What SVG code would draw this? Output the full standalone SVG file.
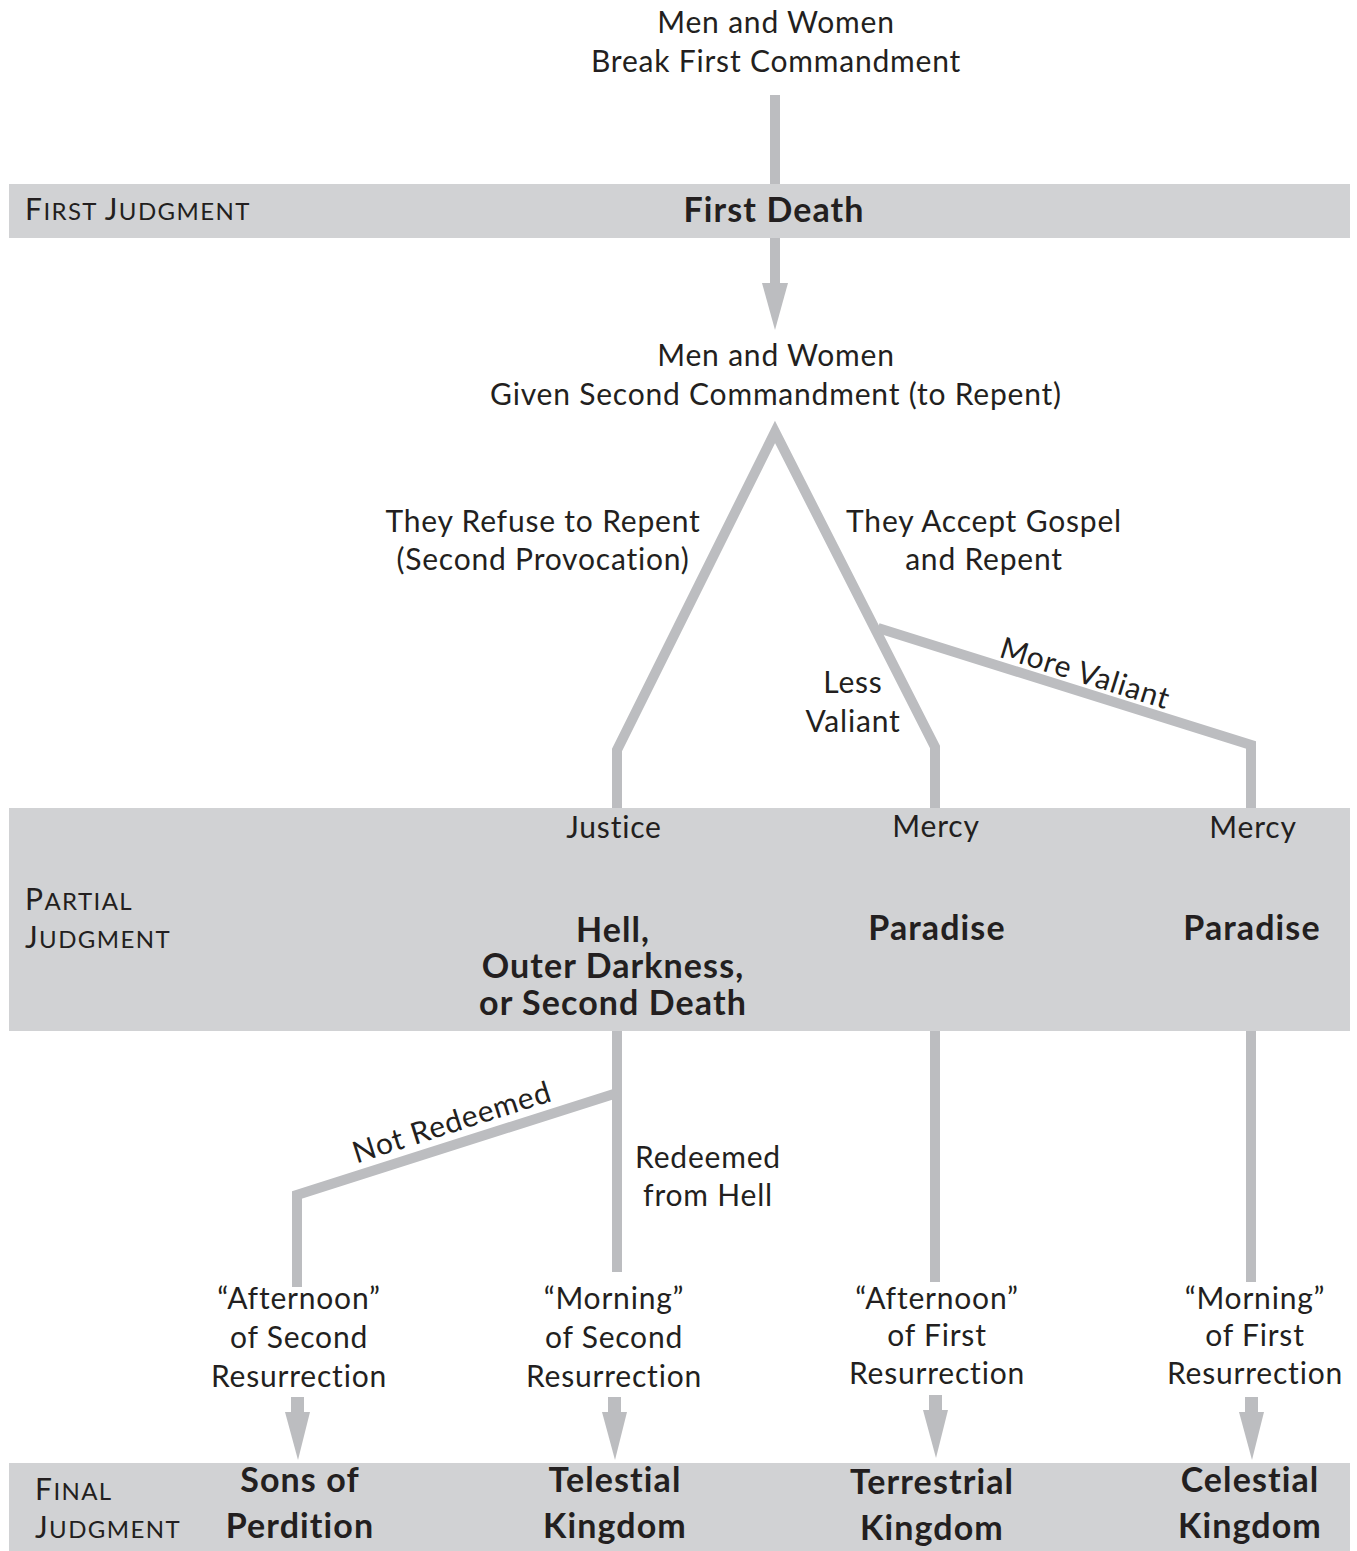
<svg xmlns="http://www.w3.org/2000/svg" width="1357" height="1551" viewBox="0 0 1357 1551">
<style>
text{font-family:Lato,"Open Sans","DejaVu Sans",sans-serif;fill:#231f20;text-anchor:middle}
.r{font-size:30px;letter-spacing:0.8px}
.b{font-size:34px;font-weight:bold;letter-spacing:1.1px}
.sc{font-size:30px;text-anchor:start;letter-spacing:1.4px}
.sc tspan.s{font-size:24px}
.band{fill:#d1d2d4}
.ln{stroke:#bcbdc0;stroke-width:10;fill:none;stroke-linejoin:miter}
.ah{fill:#bcbdc0}
</style>
<rect width="1357" height="1551" fill="#ffffff"/>
<g id="connectors">
<line class="ln" x1="775" y1="95" x2="775" y2="190"/>
<line class="ln" x1="775" y1="232" x2="775" y2="290"/>
<polygon class="ah" points="762,283 788,283 775,330"/>
<polyline class="ln" points="617,808 617,750 775,432 935,747 935,808"/>
<polyline class="ln" points="878,628 1251,745 1251,808"/>
<line class="ln" x1="617" y1="847" x2="617" y2="906"/>
<line class="ln" x1="935" y1="847" x2="935" y2="906"/>
<line class="ln" x1="1251" y1="847" x2="1251" y2="906"/>
<line class="ln" x1="935" y1="953" x2="935" y2="1282"/>
<line class="ln" x1="1251" y1="953" x2="1251" y2="1282"/>
<line class="ln" x1="617" y1="1025" x2="617" y2="1272"/>
<polyline class="ln" points="617,1093 297,1195 297,1287"/>
<g id="arrows">
<rect class="ah" x="291" y="1397" width="13" height="17"/><polygon class="ah" points="285,1412 310,1412 298,1460"/>
<rect class="ah" x="608" y="1397" width="13" height="17"/><polygon class="ah" points="602,1412 627,1412 615,1460"/>
<rect class="ah" x="929" y="1395" width="13" height="17"/><polygon class="ah" points="923,1410 948,1410 936,1458"/>
<rect class="ah" x="1245" y="1397" width="13" height="17"/><polygon class="ah" points="1239,1412 1264,1412 1252,1460"/>
</g>
</g>
<g id="band-first">
<rect class="band" x="9" y="184" width="1341" height="54"/>
<text class="sc" x="25" y="220">F<tspan class="s">IRST </tspan>J<tspan class="s">UDGMENT</tspan></text>
</g>
<g id="band-partial">
<rect class="band" x="9" y="808" width="1341" height="223"/>
<text class="sc" x="25" y="910">P<tspan class="s">ARTIAL</tspan></text>
<text class="sc" x="25" y="948">J<tspan class="s">UDGMENT</tspan></text>
</g>
<g id="band-final">
<rect class="band" x="9" y="1463" width="1341" height="88"/>
<text class="sc" x="35" y="1500">F<tspan class="s">INAL</tspan></text>
<text class="sc" x="35" y="1538">J<tspan class="s">UDGMENT</tspan></text>
</g>
<g id="node-start"><text class="r" x="776" y="33">Men and Women</text><text class="r" x="776" y="72">Break First Commandment</text></g>
<g id="node-first-death"><text class="b" x="774" y="222">First Death</text></g>
<g id="node-second"><text class="r" x="776" y="366">Men and Women</text><text class="r" x="776" y="405">Given Second Commandment (to Repent)</text></g>
<g id="label-refuse"><text class="r" x="543" y="532">They Refuse to Repent</text><text class="r" x="543" y="570">(Second Provocation)</text></g>
<g id="label-accept"><text class="r" x="984" y="532">They Accept Gospel</text><text class="r" x="984" y="570">and Repent</text></g>
<g id="label-less"><text class="r" x="853" y="693">Less</text><text class="r" x="853" y="732">Valiant</text></g>
<g id="label-more"><text class="r" transform="translate(1082,683) rotate(17.4)" x="0" y="0">More Valiant</text></g>
<g id="label-justice"><text class="r" x="614" y="838">Justice</text></g>
<g id="label-mercy1"><text class="r" x="936" y="837">Mercy</text></g>
<g id="label-mercy2"><text class="r" x="1253" y="838">Mercy</text></g>
<g id="node-hell"><text class="b" x="613" y="942">Hell,</text><text class="b" x="613" y="978">Outer Darkness,</text><text class="b" x="613" y="1015">or Second Death</text></g>
<g id="node-paradise1"><text class="b" x="937" y="940">Paradise</text></g>
<g id="node-paradise2"><text class="b" x="1252" y="940">Paradise</text></g>
<g id="label-not-redeemed"><text class="r" transform="translate(455,1132) rotate(-17.7)" x="0" y="0">Not Redeemed</text></g>
<g id="label-redeemed"><text class="r" x="708" y="1168">Redeemed</text><text class="r" x="708" y="1206">from Hell</text></g>
<g id="label-res1"><text class="r" x="299" y="1309">“Afternoon”</text><text class="r" x="299" y="1348">of Second</text><text class="r" x="299" y="1387">Resurrection</text></g>
<g id="label-res2"><text class="r" x="614" y="1309">“Morning”</text><text class="r" x="614" y="1348">of Second</text><text class="r" x="614" y="1387">Resurrection</text></g>
<g id="label-res3"><text class="r" x="937" y="1309">“Afternoon”</text><text class="r" x="937" y="1346">of First</text><text class="r" x="937" y="1384">Resurrection</text></g>
<g id="label-res4"><text class="r" x="1255" y="1309">“Morning”</text><text class="r" x="1255" y="1346">of First</text><text class="r" x="1255" y="1384">Resurrection</text></g>
<g id="node-sons"><text class="b" x="300" y="1492">Sons of</text><text class="b" x="300" y="1538">Perdition</text></g>
<g id="node-telestial"><text class="b" x="615" y="1492">Telestial</text><text class="b" x="615" y="1538">Kingdom</text></g>
<g id="node-terrestrial"><text class="b" x="932" y="1494">Terrestrial</text><text class="b" x="932" y="1540">Kingdom</text></g>
<g id="node-celestial"><text class="b" x="1250" y="1492">Celestial</text><text class="b" x="1250" y="1538">Kingdom</text></g>
</svg>
